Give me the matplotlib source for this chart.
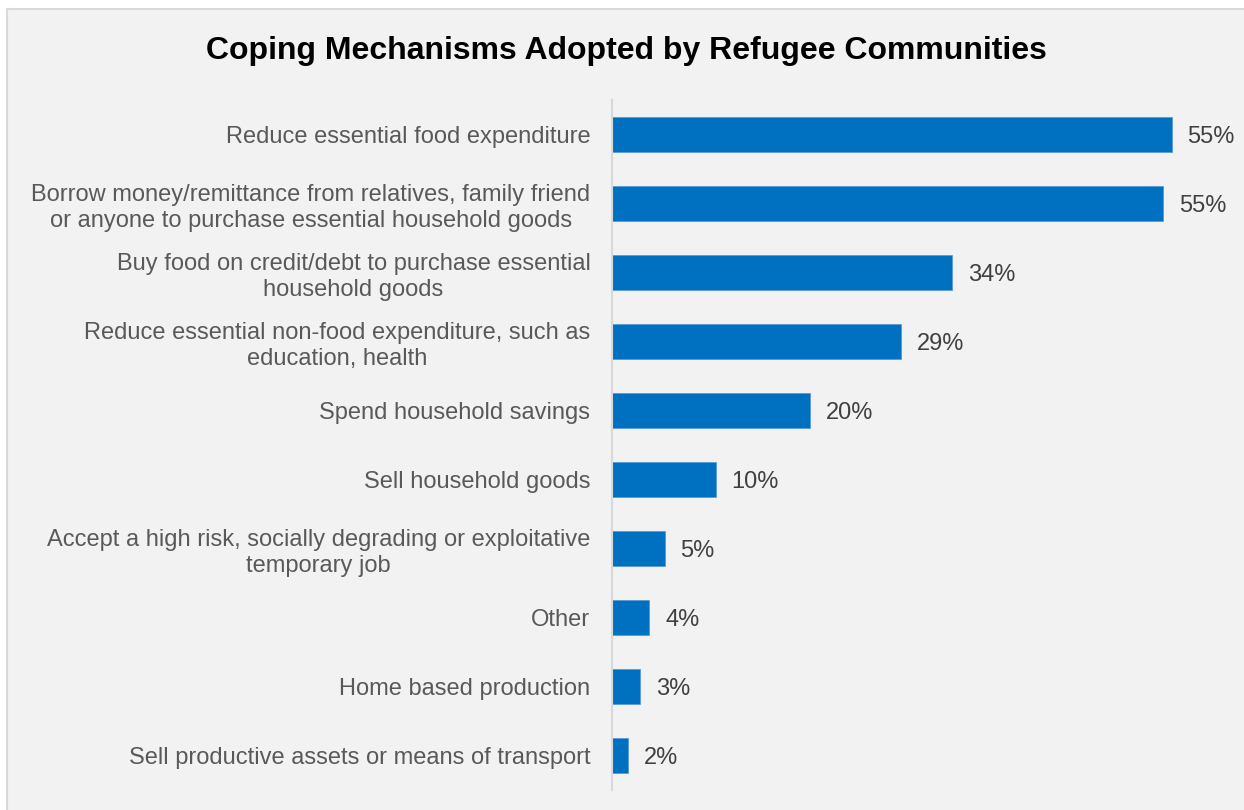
import matplotlib
matplotlib.use('Agg')
import matplotlib.pyplot as plt
from matplotlib.patches import Rectangle

plt.rcParams['font.family'] = ['Liberation Sans', 'DejaVu Sans']

categories = [
    'Reduce essential food expenditure',
    'Borrow money/remittance from relatives, family friend\nor anyone to purchase essential household goods',
    'Buy food on credit/debt to purchase essential\nhousehold goods',
    'Reduce essential non-food expenditure, such as\neducation, health',
    'Spend household savings',
    'Sell household goods',
    'Accept a high risk, socially degrading or exploitative\ntemporary job',
    'Other',
    'Home based production',
    'Sell productive assets or means of transport',
]
values = [55.4, 54.6, 33.7, 28.6, 19.6, 10.3, 5.2, 3.7, 2.8, 1.6]

bar_color = '#0070C0'
bg_color = '#F2F2F2'

fig = plt.figure(figsize=(12.44, 8.10), dpi=100)
fig.patch.set_facecolor('white')

# grey panel with a thin border on the top and left
panel = Rectangle((7 / 1244, 0), 1 - 7 / 1244, 1 - 9 / 810, transform=fig.transFigure,
                  facecolor=bg_color, edgecolor='none', zorder=-10)
fig.patches.append(panel)
fig.add_artist(plt.Line2D([7 / 1244, 1], [1 - 9 / 810, 1 - 9 / 810], transform=fig.transFigure,
                          color='#D9D9D9', lw=1.5, zorder=-5))
fig.add_artist(plt.Line2D([7 / 1244, 7 / 1244], [0, 1 - 9 / 810], transform=fig.transFigure,
                          color='#D9D9D9', lw=1.5, zorder=-5))

ax = fig.add_axes([612 / 1244, 1 - 790 / 810, 606 / 1244, 690 / 810])
ax.set_facecolor('none')

y = list(range(len(categories)))
ax.barh(y, values, height=0.5, color=bar_color, edgecolor='#5B9BD5', linewidth=0.6)

for yi, v in zip(y, values):
    ax.text(v + 1.55, yi, f'{v:.0f}%', va='center_baseline', ha='left', fontsize=17,
            color='#404040', clip_on=False)

ax.set_xlim(0, 60)
ax.set_ylim(len(categories) - 0.5, -0.5)
ax.set_yticks(y)
ax.set_yticklabels(categories, fontsize=17, color='#595959', ha='right',
                   multialignment='center', linespacing=1.22)
ax.tick_params(axis='y', length=0, pad=15.5)
ax.set_xticks([])

for side in ['top', 'right', 'bottom']:
    ax.spines[side].set_visible(False)
ax.spines['left'].set_color('#D9D9D9')
ax.spines['left'].set_linewidth(1.5)

fig.text(626 / 1244, 1 - 51 / 810, 'Coping Mechanisms Adopted by Refugee Communities',
         ha='center', va='center', fontsize=23, fontweight='bold', color='black')

fig.savefig('out.png', dpi=100, facecolor=fig.get_facecolor())
